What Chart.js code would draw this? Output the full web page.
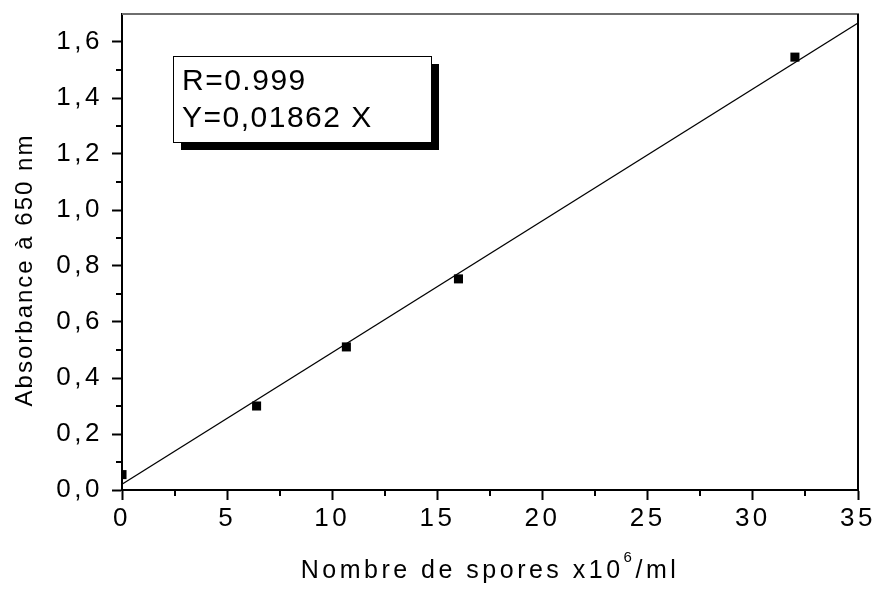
<!DOCTYPE html>
<html>
<head>
<meta charset="utf-8">
<script src="https://cdn.jsdelivr.net/npm/chart.js@4/dist/chart.umd.min.js"></script>
<style>
  html, body { margin: 0; padding: 0; background: #fff; }
  #wrap { width: 879px; height: 592px; }
</style>
</head>
<body>
<div id="wrap"><canvas id="c" width="879" height="592"></canvas></div>
<script>
// ---- data ----
const sporesX = [0, 6.4, 10.67, 16, 32];
const absorbanceY = [0.055, 0.30, 0.511, 0.754, 1.546];
const fitX = [0, 35];
const fitY = [0.021, 1.668];
const xTicks = [0, 5, 10, 15, 20, 25, 30, 35];
const yTicks = [0, 0.2, 0.4, 0.6, 0.8, 1.0, 1.2, 1.4, 1.6];
const xMinorTicks = [2.5, 7.5, 12.5, 17.5, 22.5, 27.5, 32.5];
const yMinorTicks = [0.1, 0.3, 0.5, 0.7, 0.9, 1.1, 1.3, 1.5];
const xTitleMain = "Nombre de spores x10";
const xTitleSup = "6";
const xTitleEnd = "/ml";
const yTitle = "Absorbance à 650 nm";
const boxLines = ["R=0.999", "Y=0,01862 X"];

const FONT = "'Liberation Sans', Arial, sans-serif";
const TICK_SPACING = '3.5px';

function setSpacing(ctx, v) { try { ctx.letterSpacing = v; } catch (e) {} }

const extras = {
  id: 'extras',
  beforeUpdate(chart) { setSpacing(chart.ctx, TICK_SPACING); },
  beforeLayout(chart) { setSpacing(chart.ctx, TICK_SPACING); },
  beforeDraw(chart) { setSpacing(chart.ctx, TICK_SPACING); },
  afterDraw(chart) {
    const ctx = chart.ctx;
    const a = chart.chartArea;
    const xs = chart.scales.x, ys = chart.scales.y;
    ctx.save();
    // top border (grey) and right border (black)
    ctx.strokeStyle = '#6e6e6e';
    ctx.lineWidth = 2;
    ctx.beginPath(); ctx.moveTo(a.left, a.top); ctx.lineTo(a.right + 1, a.top); ctx.stroke();
    ctx.strokeStyle = '#000';
    ctx.lineWidth = 2;
    ctx.beginPath(); ctx.moveTo(a.right, a.top); ctx.lineTo(a.right, a.bottom); ctx.stroke();
    // minor ticks
    ctx.lineWidth = 2;
    xMinorTicks.forEach(v => {
      const px = Math.round(xs.getPixelForValue(v));
      ctx.beginPath(); ctx.moveTo(px, a.bottom); ctx.lineTo(px, a.bottom + 6); ctx.stroke();
    });
    yMinorTicks.forEach(v => {
      const py = Math.round(ys.getPixelForValue(v));
      ctx.beginPath(); ctx.moveTo(a.left, py); ctx.lineTo(a.left - 6, py); ctx.stroke();
    });
    // text box with shadow
    const bx = 173, by = 56, bw = 258, bh = 86, off = 8;
    ctx.fillStyle = '#000';
    ctx.fillRect(bx + off, by + off, bw, bh);
    ctx.fillStyle = '#fff';
    ctx.fillRect(bx, by, bw, bh);
    ctx.strokeStyle = '#000';
    ctx.lineWidth = 1;
    ctx.strokeRect(bx + 0.5, by + 0.5, bw, bh);
    ctx.fillStyle = '#000';
    ctx.font = "30px " + FONT;
    ctx.textBaseline = 'middle';
    ctx.textAlign = 'left';
    setSpacing(ctx, '1.5px');
    ctx.fillText(boxLines[0], 182, 82);
    ctx.fillText(boxLines[1], 182, 119);
    // x title with superscript
    setSpacing(ctx, '3.5px');
    ctx.font = "25px " + FONT;
    const w1 = ctx.measureText(xTitleMain).width;
    ctx.font = "15px " + FONT;
    const w2 = ctx.measureText(xTitleSup).width;
    ctx.font = "25px " + FONT;
    const w3 = ctx.measureText(xTitleEnd).width;
    const total = w1 + w2 + w3;
    let sx = (a.left + a.right) / 2 - total / 2;
    const ty = 571;
    ctx.fillText(xTitleMain, sx, ty);
    ctx.font = "15px " + FONT;
    ctx.fillText(xTitleSup, sx + w1, ty - 13);
    ctx.font = "25px " + FONT;
    ctx.fillText(xTitleEnd, sx + w1 + w2, ty);
    // y title rotated
    ctx.translate(25, 270);
    ctx.rotate(-Math.PI / 2);
    ctx.textAlign = 'center';
    ctx.font = "24px " + FONT;
    setSpacing(ctx, '2px');
    ctx.fillText(yTitle, 0, 0);
    ctx.restore();
  }
};

new Chart(document.getElementById('c'), {
  type: 'scatter',
  data: {
    datasets: [
      {
        label: 'fit',
        data: fitX.map((x, i) => ({ x: x, y: fitY[i] })),
        showLine: true,
        borderColor: '#000',
        borderWidth: 1.2,
        pointRadius: 0,
        fill: false
      },
      {
        label: 'mesures',
        data: sporesX.map((x, i) => ({ x: x, y: absorbanceY[i] })),
        pointStyle: 'rect',
        pointRadius: 6.4,
        pointHoverRadius: 6.4,
        backgroundColor: '#000',
        borderColor: '#000',
        borderWidth: 0
      }
    ]
  },
  options: {
    responsive: false,
    animation: false,
    events: [],
    layout: { padding: { top: 14, right: 21, left: 0, bottom: 0 } },
    plugins: { legend: { display: false }, tooltip: { enabled: false } },
    scales: {
      x: {
        type: 'linear',
        min: 0, max: 35,
        afterBuildTicks: s => { s.ticks = xTicks.map(v => ({ value: v })); },
        afterFit: s => { s.height = 102; s.paddingLeft = 0; s.paddingRight = 0; },
        ticks: {
          color: '#000',
          font: { family: FONT, size: 26 },
          padding: 3,
          maxRotation: 0,
          callback: v => String(v)
        },
        grid: { drawOnChartArea: false, tickLength: 10, color: '#000', tickWidth: 2 },
        border: { color: '#000', width: 2 }
      },
      y: {
        type: 'linear',
        min: 0, max: 1.7,
        afterBuildTicks: s => { s.ticks = yTicks.map(v => ({ value: v })); },
        afterFit: s => { s.width = 122; s.paddingTop = 0; s.paddingBottom = 0; },
        ticks: {
          color: '#000',
          font: { family: FONT, size: 26 },
          padding: 9,
          callback: v => v.toFixed(1).replace('.', ',')
        },
        grid: { drawOnChartArea: false, tickLength: 10, color: '#000', tickWidth: 2 },
        border: { color: '#000', width: 2 }
      }
    }
  },
  plugins: [extras]
});
</script>
</body>
</html>
